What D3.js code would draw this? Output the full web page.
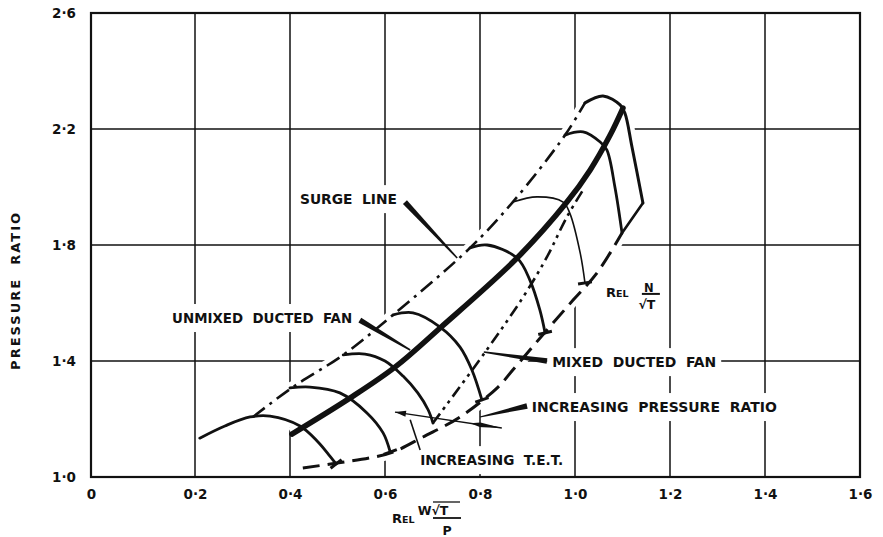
<!DOCTYPE html>
<html>
<head>
<meta charset="utf-8">
<script src="https://cdn.jsdelivr.net/npm/d3@7"></script>
<style>
  body { margin: 0; background: #fff; }
  text { font-family: "DejaVu Sans", sans-serif; fill: #111; font-weight: bold; }
</style>
</head>
<body>
<div id="chart"></div>
<script>
const margin = {top: 13, right: 23, bottom: 60, left: 91};
const width = 883 - margin.left - margin.right;
const height = 537 - margin.top - margin.bottom;

// axes
const xTicks = [0, 0.2, 0.4, 0.6, 0.8, 1.0, 1.2, 1.4, 1.6];
const xTickLabels = ["0", "0·2", "0·4", "0·6", "0·8", "1·0", "1·2", "1·4", "1·6"];
const yTicks = [1.0, 1.4, 1.8, 2.2, 2.6];
const yTickLabels = ["1·0", "1·4", "1·8", "2·2", "2·6"];

// constant N/sqrt(T) lines, [flow, pressure ratio]
const speed1 = [[0.210,1.134],[0.263,1.176],[0.316,1.207],[0.358,1.210],[0.421,1.176],[0.459,1.121],[0.484,1.072],[0.497,1.045]];
const speed2 = [[0.400,1.307],[0.442,1.310],[0.505,1.290],[0.562,1.221],[0.596,1.152],[0.611,1.086]];
const speed3 = [[0.512,1.421],[0.558,1.424],[0.600,1.400],[0.638,1.348],[0.669,1.290],[0.691,1.231],[0.701,1.186]];
const speed4 = [[0.617,1.559],[0.659,1.566],[0.716,1.517],[0.758,1.448],[0.783,1.369],[0.804,1.266]];
const speed5 = [[0.779,1.790],[0.815,1.800],[0.878,1.755],[0.905,1.679],[0.926,1.576],[0.937,1.497]];
const speed6 = [[0.869,1.948],[0.920,1.966],[0.975,1.948],[0.989,1.910],[1.011,1.772],[1.021,1.669]];
const speed7 = [[0.979,2.179],[1.017,2.190],[1.053,2.155],[1.067,2.128],[1.084,2.000],[1.099,1.841]];
const speed8 = [[1.021,2.290],[1.059,2.314],[1.095,2.283],[1.105,2.255],[1.120,2.138],[1.143,1.945]];

const surgeLine = [[0.322,1.207],[0.406,1.310],[0.512,1.421],[0.617,1.559],[0.779,1.790],[0.869,1.948],[0.979,2.179],[1.021,2.290]];
const unmixedLine = [[0.404,1.148],[0.526,1.272],[0.621,1.379],[0.716,1.514],[0.878,1.755],[0.983,1.948],[1.032,2.059],[1.074,2.179],[1.101,2.272]];
const mixedLine = [[0.701,1.186],[0.811,1.431],[0.891,1.621],[0.941,1.759],[0.983,1.897],[1.017,1.990]];
const limitLine = [[0.427,1.031],[0.499,1.048],[0.568,1.066],[0.617,1.086],[0.680,1.138],[0.758,1.207],[0.838,1.310],[0.869,1.369],[0.941,1.507],[0.996,1.610],[1.046,1.703],[1.099,1.841]];
const limitJoin = [[1.099,1.841],[1.143,1.945]];

const noteText = ["SURGE  LINE", "UNMIXED  DUCTED  FAN", "MIXED  DUCTED  FAN", "INCREASING  PRESSURE  RATIO", "INCREASING  T.E.T."];

const svgRoot = d3.select("#chart").append("svg")
  .attr("width", 883)
  .attr("height", 537);
svgRoot.append("rect").attr("width", 883).attr("height", 537).attr("fill", "#fff");

const svg = svgRoot.append("g")
  .attr("transform", "translate(" + margin.left + "," + margin.top + ")");

// hand drawn scale: the first box is a bit wider than the rest
const x = d3.scaleLinear().domain([0, 0.2, 1.6]).range([0, 104, width]);
const y = d3.scaleLinear().domain([1.0, 2.6]).range([height, 0]);

const line = d3.line()
  .x(d => x(d[0]))
  .y(d => y(d[1]))
  .curve(d3.curveCatmullRom.alpha(0.5));

// grid
svg.append("g").selectAll("line")
  .data(xTicks.slice(1, -1))
  .join("line")
  .attr("x1", d => x(d)).attr("x2", d => x(d))
  .attr("y1", 0).attr("y2", height)
  .attr("stroke", "#111").attr("stroke-width", 1.5);
svg.append("g").selectAll("line")
  .data(yTicks.slice(1, -1))
  .join("line")
  .attr("x1", 0).attr("x2", width)
  .attr("y1", d => y(d)).attr("y2", d => y(d))
  .attr("stroke", "#111").attr("stroke-width", 1.5);

// grid is not drawn inside the working envelope
const maskPts = surgeLine
  .concat(speed8)
  .concat(limitLine.filter(d => d[0] >= 0.49).reverse())
  .concat(speed1.slice(2).reverse());
svg.append("path")
  .attr("d", d3.line().x(d => x(d[0])).y(d => y(d[1]))(maskPts) + "Z")
  .attr("fill", "#fff").attr("stroke", "#fff").attr("stroke-width", 8);

// notes with a white patch behind them
const noteAt = [[0.421, 1.941], [0.156, 1.531], [0.952, 1.379], [0.909, 1.224], [0.674, 1.041]];
const noteLen = [97, 180, 164, 245, 143];
const notes = svg.append("g");
const noteBg = notes.append("g");
noteText.forEach(function(t, i) {
  const tx = notes.append("text")
    .attr("x", x(noteAt[i][0]))
    .attr("y", y(noteAt[i][1]))
    .attr("font-size", 14)
    .attr("textLength", noteLen[i])
    .attr("lengthAdjust", "spacingAndGlyphs")
    .style("white-space", "pre")
    .text(t);
  const b = tx.node().getBBox();
  noteBg.append("rect")
    .attr("x", b.x - 5).attr("y", b.y - 6)
    .attr("width", b.width + 10).attr("height", b.height + 12)
    .attr("fill", "#fff");
});

// curves: white halo first so grid lines stop short of them
const curves = [
  {d: speed1, w: 2.8}, {d: speed2, w: 2.8}, {d: speed3, w: 2.8}, {d: speed4, w: 2.8},
  {d: speed5, w: 2.8}, {d: speed6, w: 1.6}, {d: speed7, w: 2.8}, {d: speed8, w: 3},
  {d: limitJoin, w: 2.6},
  {d: surgeLine, w: 2.6, dash: "15,6,3,6"},
  {d: mixedLine, w: 2.6, dash: "12,5,3,5,3,5"},
  {d: limitLine, w: 3, dash: "17,8"},
  {d: unmixedLine, w: 5.5}
];
const halo = svg.append("g");
const ink = svg.append("g");
curves.forEach(function(c) {
  halo.append("path").attr("d", line(c.d))
    .attr("fill", "none").attr("stroke", "#fff").attr("stroke-width", c.w + 9);
  ink.append("path").attr("d", line(c.d))
    .attr("fill", "none").attr("stroke", "#111")
    .attr("stroke-width", c.w)
    .attr("stroke-dasharray", c.dash || null)
    .attr("stroke-linecap", c.dash ? "butt" : "round");
});

// end bars on the speed lines
[speed1, speed2, speed4, speed5, speed6].forEach(function(s) {
  const a = s[s.length - 2], b = s[s.length - 1];
  const dx = x(b[0]) - x(a[0]), dy = y(b[1]) - y(a[1]);
  const L = Math.hypot(dx, dy), nx = -dy / L * 7, ny = dx / L * 7;
  ink.append("line")
    .attr("x1", x(b[0]) + nx).attr("y1", y(b[1]) + ny)
    .attr("x2", x(b[0]) - nx).attr("y2", y(b[1]) - ny)
    .attr("stroke", "#111").attr("stroke-width", 3);
});

// tapered leaders, thick at the note end
function wedge(p0, p1, w0, w1) {
  const x0 = x(p0[0]), y0 = y(p0[1]), x1 = x(p1[0]), y1 = y(p1[1]);
  const L = Math.hypot(x1 - x0, y1 - y0);
  const nx = -(y1 - y0) / L, ny = (x1 - x0) / L;
  return [[x0 + nx * w0 / 2, y0 + ny * w0 / 2], [x1 + nx * w1 / 2, y1 + ny * w1 / 2],
          [x1 - nx * w1 / 2, y1 - ny * w1 / 2], [x0 - nx * w0 / 2, y0 - ny * w0 / 2]];
}
const leaders = [
  [[0.642, 1.948], [0.752, 1.755], 5.5, 1.5],
  [[0.547, 1.541], [0.653, 1.438], 5.5, 1.5],
  [[0.941, 1.400], [0.808, 1.431], 5.5, 1.5],
  [[0.899, 1.245], [0.800, 1.207], 5.5, 1.2]
];
leaders.forEach(function(l) {
  ink.append("polygon")
    .attr("points", wedge(l[0], l[1], l[2], l[3]).join(" "))
    .attr("fill", "#111");
});

// increasing T.E.T. arrow
const arrL = [0.621, 1.224], arrR = [0.846, 1.169];
ink.append("line")
  .attr("x1", x(arrL[0])).attr("y1", y(arrL[1]))
  .attr("x2", x(arrR[0])).attr("y2", y(arrR[1]))
  .attr("stroke", "#111").attr("stroke-width", 1.3);
(function() {
  const x0 = x(arrL[0]), y0 = y(arrL[1]), x1 = x(arrR[0]), y1 = y(arrR[1]);
  const L = Math.hypot(x1 - x0, y1 - y0), ux = (x1 - x0) / L, uy = (y1 - y0) / L;
  ink.append("polygon")
    .attr("points", [[x0, y0], [x0 + ux * 11 - uy * 3, y0 + uy * 11 + ux * 3], [x0 + ux * 11 + uy * 3, y0 + uy * 11 - ux * 3]].join(" "))
    .attr("fill", "#111");
  ink.append("polygon")
    .attr("points", [[x1, y1], [x1 - ux * 22 - uy * 2.2, y1 - uy * 22 + ux * 2.2], [x1 - ux * 32, y1 - uy * 32], [x1 - ux * 22 + uy * 2.2, y1 - uy * 22 - ux * 2.2]].join(" "))
    .attr("fill", "#111");
})();
ink.append("line")
  .attr("x1", x(0.653)).attr("y1", y(1.197))
  .attr("x2", x(0.674)).attr("y2", y(1.093))
  .attr("stroke", "#111").attr("stroke-width", 1.6);

// frame
svg.append("rect")
  .attr("width", width).attr("height", height)
  .attr("fill", "none").attr("stroke", "#111").attr("stroke-width", 2.2);

// tick labels
svg.append("g")
  .attr("transform", "translate(0," + height + ")")
  .call(d3.axisBottom(x).tickValues(xTicks).tickFormat((d, i) => xTickLabels[i]).tickSize(0).tickPadding(12))
  .call(g => g.select(".domain").remove())
  .selectAll("text")
  .attr("font-family", "DejaVu Sans").attr("font-size", 13.5).attr("font-weight", "bold")
  .style("fill", "#111");
svg.append("g")
  .call(d3.axisLeft(y).tickValues(yTicks).tickFormat((d, i) => yTickLabels[i]).tickSize(0).tickPadding(15))
  .call(g => g.select(".domain").remove())
  .selectAll("text")
  .attr("font-family", "DejaVu Sans").attr("font-size", 13.5).attr("font-weight", "bold")
  .style("fill", "#111");

// y title
svgRoot.append("text")
  .attr("transform", "translate(20," + (margin.top + height * 0.6) + ")rotate(-90)")
  .attr("text-anchor", "middle")
  .attr("font-size", 13)
  .attr("textLength", 157)
  .attr("lengthAdjust", "spacing")
  .style("white-space", "pre")
  .text("PRESSURE  RATIO");

// x title: REL  W sqrt(T) / P
const xt = svgRoot.append("g").attr("transform", "translate(392,523)");
xt.append("text").attr("font-size", 13).text("R")
  .append("tspan").attr("font-size", 9.5).text("EL");
xt.append("text").attr("x", 41).attr("y", -8).attr("font-size", 12.5)
  .attr("text-anchor", "middle").text("W√T");
xt.append("line").attr("x1", 41).attr("x2", 68).attr("y1", -21).attr("y2", -21)
  .attr("stroke", "#111").attr("stroke-width", 1.3);
xt.append("line").attr("x1", 41).attr("x2", 69).attr("y1", -5).attr("y2", -5)
  .attr("stroke", "#111").attr("stroke-width", 1.8);
xt.append("text").attr("x", 55).attr("y", 12).attr("font-size", 12.5)
  .attr("text-anchor", "middle").text("P");

// speed parameter note: REL N / sqrt(T)
const nt = svg.append("g").attr("transform", "translate(" + x(1.065) + "," + y(1.621) + ")");
nt.append("text").attr("font-size", 13).text("R")
  .append("tspan").attr("font-size", 9.5).text("EL");
nt.append("text").attr("x", 43).attr("y", -5).attr("font-size", 11.5)
  .attr("text-anchor", "middle").text("N");
nt.append("line").attr("x1", 36).attr("x2", 54).attr("y1", -3).attr("y2", -3)
  .attr("stroke", "#111").attr("stroke-width", 2);
nt.append("text").attr("x", 41).attr("y", 12).attr("font-size", 12.5)
  .attr("text-anchor", "middle").text("√T");
</script>
</body>
</html>
